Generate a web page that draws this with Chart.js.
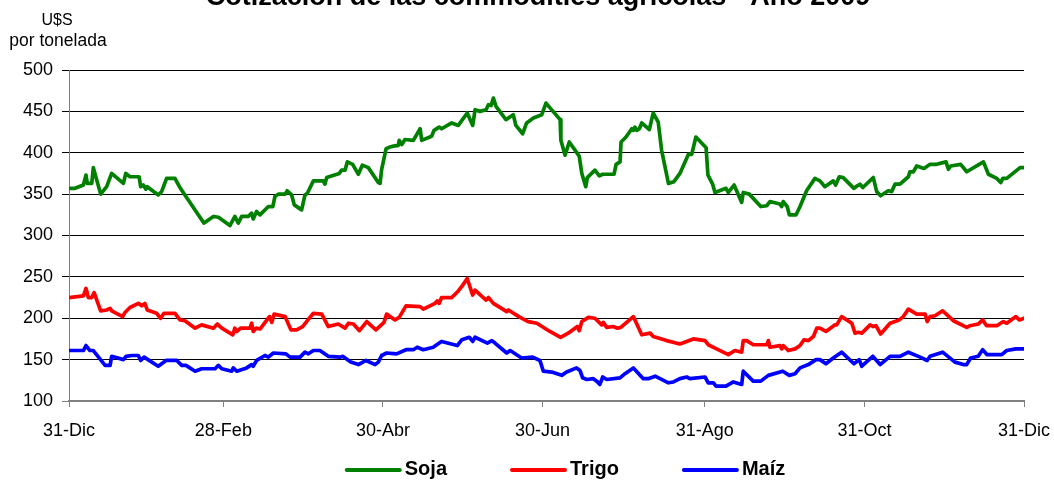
<!DOCTYPE html>
<html>
<head>
<meta charset="utf-8">
<script src="https://cdn.jsdelivr.net/npm/chart.js@4"></script>
<style>
  body { margin: 0; background: #fff; }
  #wrap { width: 1054px; height: 481px; }
</style>
</head>
<body>
<div id="wrap"><canvas id="chartCanvas"></canvas></div>
<script>
const chartTitle = 'Cotización de las commodities agrícolas - Año 2009';
const unitLines = ['U$S', 'por tonelada'];

// x = days since 31-Dic-2008
const tickDays = [0, 59, 120, 181, 243, 304, 365];
const tickLabels = ['31-Dic', '28-Feb', '30-Abr', '30-Jun', '31-Ago', '31-Oct', '31-Dic'];

const seriesNames = ['Soja', 'Trigo', 'Maíz'];
const seriesColors = ['#008000', '#ff0000', '#0000ff'];

const sojaDays = [0,2.3,5.5,6.5,7.0,8.7,9.3,12.1,14.4,16.3,20.8,21.7,23.3,26.8,27.4,28.4,29.4,29.9,34.1,35.4,
  37.3,40.5,42.2,44.3,49.4,51.6,55.2,57.1,61.5,63.4,64.7,66.0,68.5,69.8,70.4,71.7,73.0,76.2,77.9,78.7,
  80.0,82.6,83.4,85.1,86.1,88.9,90.2,91.1,93.4,97.2,97.8,98.5,103.3,104.2,105.5,106.4,108.4,110.6,112.1,114.4,
  118.2,118.9,119.5,121.2,122.7,124.0,125.9,126.2,127.2,128.4,131.6,134.2,134.8,138.6,139.5,141.5,142.4,146.3,148.8,152.2,
  154.3,155.2,157.1,159.4,160.3,161.3,162.2,163.2,167.0,169.8,170.8,173.4,174.9,177.5,180.7,182.3,187.7,188.0,189.6,191.2,
  195.0,196.0,197.5,198.1,201.0,202.7,204.0,208.3,209.1,210.6,211.0,212.9,215.1,215.7,216.3,217.0,218.0,218.9,221.8,223.3,
  225.2,226.5,229.1,231.2,233.5,236.7,238.0,239.6,243.5,244.2,246.0,246.9,251.1,252.0,254.2,257.1,257.7,260.0,264.4,266.7,
  267.9,271.7,272.4,273.0,274.5,275.3,277.9,279.4,281.9,285.1,287.0,288.9,292.1,293.0,294.4,295.9,300.0,300.8,302.3,303.4,
  307.4,308.7,310.2,313.1,314.4,315.7,317.6,320.8,321.4,322.7,324.0,326.8,329.1,331.6,335.2,336.1,337.0,340.8,343.1,349.5,
  351.4,354.6,356.1,356.9,358.4,363.5,365];
const sojaValues = [357,357,361,373,363,363,382,350,359,375,363,375,371,371,359,361,356,359,349,353,
  369,369,359,349,325,315,323,322,312,323,315,323,323,327,320,329,325,335,335,347,
  350,350,354,349,337,331,349,351,366,366,362,370,375,379,379,389,386,374,385,382,
  364,363,380,405,407,408,409,415,410,416,415,429,415,420,427,431,429,436,433,448,
  433,452,450,452,458,457,466,456,440,446,433,423,436,442,446,460,440,415,397,413,
  396,375,359,370,379,372,374,374,386,389,413,419,429,427,431,427,429,436,428,448,
  437,403,363,365,375,398,398,419,406,373,362,352,357,352,361,340,352,350,335,336,
  341,338,335,341,335,325,325,335,354,369,366,359,366,361,371,370,357,359,362,358,
  370,353,348,354,353,362,362,371,377,377,384,381,386,386,389,380,384,386,377,389,
  374,369,364,369,369,382,382];

const trigoDays = [0,5.5,6.5,7.4,8.7,9.6,12.1,14.4,15.7,16.3,20.5,21.4,23.3,26.5,27.8,29.0,29.9,33.5,35.0,36.3,
  40.5,42.4,44.3,48.2,50.7,55.2,56.7,58.4,62.6,63.4,64.1,65.6,69.2,69.8,70.4,71.5,73.0,76.6,77.5,78.4,
  82.6,84.8,87.0,89.3,90.8,93.4,96.6,99.1,102.9,105.5,106.8,108.7,111.0,113.8,117.3,120.4,121.4,124.6,126.2,128.8,
  134.2,135.4,139.9,140.8,141.5,142.4,146.3,148.8,150.5,152.2,154.3,155.2,159.4,160.3,162.2,167.3,167.9,172.4,175.5,178.8,
  183.8,187.9,190.8,194.3,195.0,196.0,198.5,201.0,203.6,204.2,205.5,208.0,209.6,210.9,215.7,218.9,222.1,223.3,228.4,232.0,
  233.5,238.6,243.1,244.3,247.5,252.0,254.5,257.1,257.7,259.0,261.5,266.7,267.3,267.9,271.7,272.4,273.0,274.9,277.5,279.4,
  280.9,282.6,284.5,285.8,287.0,289.3,292.8,293.4,295.3,299.2,300.4,301.7,303.0,306.2,307.4,308.4,310.2,313.8,317.3,318.9,
  320.8,324.0,327.2,328.0,329.1,331.0,333.9,338.0,343.1,344.4,347.5,349.2,350.7,354.6,357.1,358.4,361.9,363.2,365];
const trigoValues = [225,227,236,225,225,231,209,210,212,209,202,207,213,218,215,218,210,206,200,206,
  206,198,197,188,192,188,193,188,180,188,184,188,188,194,184,188,187,202,195,205,
  202,186,186,190,196,206,205,190,193,188,194,193,185,196,186,195,205,198,201,215,
  214,211,218,221,218,225,225,233,240,248,228,234,222,225,218,208,210,201,196,194,
  184,177,182,190,185,196,201,200,192,195,189,190,188,189,202,180,182,178,173,170,
  169,175,173,168,163,156,161,159,173,173,168,168,173,165,167,163,167,161,163,167,
  174,173,178,188,188,184,192,192,202,194,182,183,182,192,190,191,181,194,198,202,
  211,205,205,196,202,203,209,197,189,191,193,198,191,191,196,194,202,198,200];

const maizDays = [0,5.5,6.5,8.0,9.3,13.8,15.7,16.3,20.8,21.8,24.0,26.5,27.4,28.7,34.1,37.1,41.2,43.1,44.7,48.2,
  50.7,55.8,57.1,58.4,62.2,62.8,64.1,67.9,69.8,70.4,71.7,74.9,76.2,78.1,82.9,84.5,88.3,90.2,91.5,93.4,
  95.9,99.1,103.6,104.6,107.7,110.6,113.5,117.0,118.2,119.5,121.4,125.2,128.8,131.6,133.1,135.4,139.2,141.5,142.4,148.4,
  150.1,153.0,154.3,155.2,159.9,161.6,162.8,167.3,168.6,173.0,177.2,180.0,181.3,184.5,188.3,190.2,194.0,195.3,196.3,197.9,
  200.4,201.7,202.9,204.0,205.5,210.6,212.5,215.7,219.5,221.4,224.0,229.1,231.0,233.5,236.1,237.3,243.1,244.3,246.3,247.3,
  251.1,253.9,257.1,257.7,261.5,264.4,267.3,272.8,275.3,277.5,279.4,282.6,285.5,287.0,289.3,292.1,295.3,300.0,302.0,303.0,
  307.2,310.0,313.8,317.6,320.8,325.3,328.0,329.1,333.9,338.6,341.8,343.1,344.6,347.5,349.2,350.9,356.5,358.4,361.9,365];
const maizValues = [161,161,167,161,161,143,143,154,150,154,155,155,149,153,142,149,149,143,143,136,
  139,139,143,139,136,140,136,140,144,142,149,155,153,158,157,153,153,159,157,161,
  161,154,153,154,147,144,149,144,147,155,158,157,162,162,165,162,165,170,172,167,
  174,177,172,177,170,173,170,158,161,152,153,149,136,135,131,135,140,137,128,126,
  127,124,120,129,126,128,133,140,127,127,130,122,123,127,129,127,129,122,122,118,
  118,123,120,136,124,124,131,136,131,133,140,144,150,150,145,152,159,145,150,142,
  154,144,154,154,159,153,149,154,159,147,144,144,152,154,162,156,156,161,163,163];

const FONT = '"Liberation Sans", Arial, sans-serif';

function toPoints(days, values) {
  return days.map((d, i) => ({ x: d, y: values[i] }));
}

const seriesData = [
  toPoints(sojaDays, sojaValues),
  toPoints(trigoDays, trigoValues),
  toPoints(maizDays, maizValues)
];

// title, unit label and legend drawn on top of the canvas
const extraText = {
  id: 'extraText',
  afterDraw(chart) {
    const c = chart.ctx;
    c.save();
    c.fillStyle = '#000';
    c.textAlign = 'center';
    c.textBaseline = 'alphabetic';
    c.font = 'bold 27px ' + FONT;
    c.fillText(chartTitle, 538, 5);

    c.font = '16px ' + FONT;
    c.fillText(unitLines[0], 57, 25);
    c.font = '17.5px ' + FONT;
    c.fillText(unitLines[1], 58, 46);

    // legend
    c.font = 'bold 20px ' + FONT;
    const lineLen = 53, gapText = 5, gapItem = 65;
    const widths = seriesNames.map(n => lineLen + gapText + c.measureText(n).width);
    const total = widths.reduce((a, b) => a + b, 0) + gapItem * (widths.length - 1);
    let x = 566 - total / 2;
    const y = 470;
    c.textAlign = 'left';
    c.textBaseline = 'middle';
    chart.data.datasets.forEach((ds, i) => {
      c.strokeStyle = ds.borderColor;
      c.lineWidth = 4;
      c.lineCap = 'round';
      c.beginPath();
      c.moveTo(x, y);
      c.lineTo(x + lineLen, y);
      c.stroke();
      c.fillText(ds.label, x + lineLen + gapText, y - 1);
      x += widths[i] + gapItem;
    });
    c.restore();
  }
};

const ctx = document.getElementById('chartCanvas').getContext('2d');
new Chart(ctx, {
  type: 'line',
  data: {
    datasets: seriesNames.map((name, i) => ({
      label: name,
      data: seriesData[i],
      borderColor: seriesColors[i],
      backgroundColor: seriesColors[i],
      borderWidth: 3.7,
      pointRadius: 0,
      tension: 0,
      borderJoinStyle: 'round',
      borderCapStyle: 'round'
    }))
  },
  options: {
    responsive: true,
    maintainAspectRatio: false,
    animation: false,
    layout: { padding: { top: 70, right: 30, bottom: 30, left: 0 } },
    plugins: {
      legend: { display: false },
      tooltip: { enabled: false }
    },
    scales: {
      x: {
        type: 'linear',
        min: 0,
        max: 365,
        afterBuildTicks: s => { s.ticks = tickDays.map(v => ({ value: v })); },
        afterFit: s => { s.height = 50; s.paddingLeft = 0; s.paddingRight = 0; },
        ticks: {
          callback: (v, i) => tickLabels[i],
          font: { size: 18, family: FONT },
          color: '#000',
          padding: 13,
          maxRotation: 0,
          autoSkip: false
        },
        grid: { drawOnChartArea: false, tickLength: 6, color: '#808080', lineWidth: 1 },
        border: { color: '#808080', width: 2 }
      },
      y: {
        min: 100,
        max: 500,
        afterFit: s => { s.width = 69; s.paddingTop = 0; s.paddingBottom = 0; },
        ticks: {
          stepSize: 50,
          font: { size: 18, family: FONT },
          color: '#000',
          padding: 9
        },
        grid: {
          color: c => (c.tick && c.tick.value === 100) ? '#808080' : '#000',
          lineWidth: 1,
          tickLength: 7
        },
        border: { color: '#808080', width: 1 }
      }
    }
  },
  plugins: [extraText]
});
</script>
</body>
</html>
